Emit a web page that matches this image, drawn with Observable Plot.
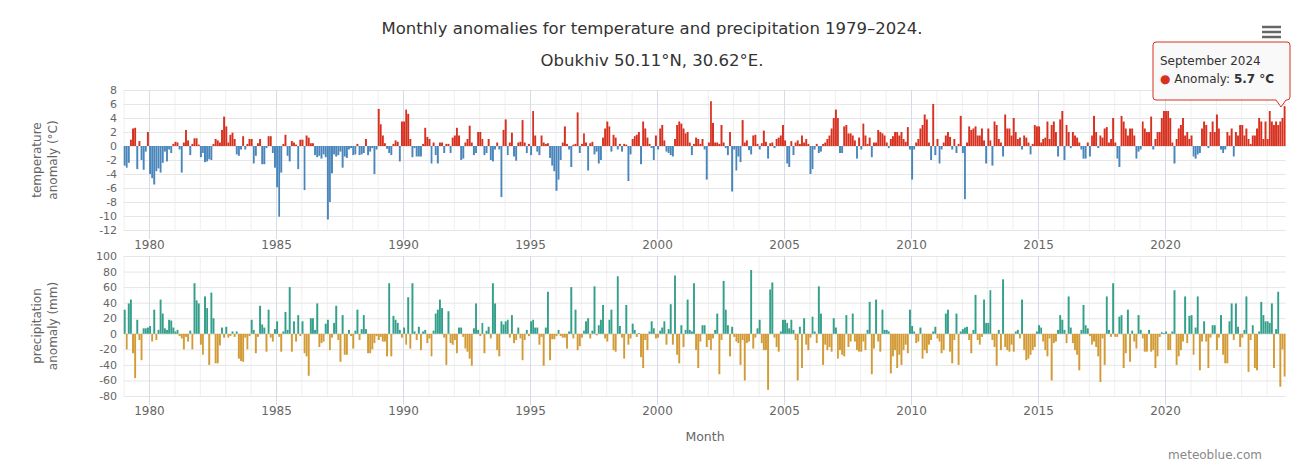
<!DOCTYPE html>
<html><head><meta charset="utf-8">
<script src="https://cdn.jsdelivr.net/npm/d3@7"></script>
<script src="https://cdn.jsdelivr.net/npm/@observablehq/plot@0.6"></script>
<style>
html,body{margin:0;padding:0;background:#fff;}
#chart{position:relative;width:1294px;height:461px;overflow:hidden;font-family:"DejaVu Sans",sans-serif;background:#fff;}
#chart svg{position:absolute;left:0;overflow:visible;}
</style></head><body><div id="chart"></div>
<script>
const startYear = 1979;
const titleText = "Monthly anomalies for temperature and precipitation 1979–2024.";
const subtitleText = "Obukhiv 50.11°N, 30.62°E.";
const yearTicks = [1980, 1985, 1990, 1995, 2000, 2005, 2010, 2015, 2020];
const tempTicks = [8, 6, 4, 2, 0, -2, -4, -6, -8, -10, -12];
const precipTicks = [100, 80, 60, 40, 20, 0, -20, -40, -60, -80];

// Monthly temperature anomaly (°C), one row per year, Jan..Dec
const temperature = [
  [-2.8, -3.1, -2.4, 0.9, 2.5, 2.6, -3.3, 0.7, -2.0, -3.4, -0.8, 2.0], // 1979
  [-4.0, -4.6, -5.5, -3.6, -3.2, -3.8, -2.4, -0.8, -2.2, -0.5, -1.0, 0.3], // 1980
  [0.6, 0.5, -0.5, -3.8, 0.5, 2.3, 0.8, -1.3, 0.3, 1.1, 1.1, 0.2], // 1981
  [-1.6, -1.0, -2.3, -2.2, -1.9, -2.0, 0.3, 1.0, 0.8, 0.5, 2.3, 4.2], // 1982
  [2.8, 0.5, 1.6, 1.9, 1.0, -1.2, -1.4, -0.5, 1.4, -0.5, 0.3, 1.0], // 1983
  [1.0, -2.5, -1.4, 0.4, 1.0, -2.6, -2.6, -0.3, 1.4, 1.4, -1.0, -3.1], // 1984
  [-5.9, -10.1, -3.8, 0.3, 1.6, -1.4, -2.2, 0.7, 0.5, 0.2, -3.3, 0.9], // 1985
  [0.9, -6.3, 1.5, 1.2, 0.4, 0.4, -1.3, -1.6, -1.4, -1.8, -1.2, -1.6], // 1986
  [-10.5, -8.0, -3.9, -1.2, -1.5, -1.3, -0.8, -3.1, -1.5, -1.7, -0.5, -0.3], // 1987
  [-1.3, -1.2, 0.3, -1.3, -1.2, -1.0, 1.0, -1.3, -0.8, -0.3, -4.0, -0.5], // 1988
  [5.3, 3.1, 1.5, 0.4, -0.4, -1.0, -1.3, 0.3, 0.8, 0.6, -2.2, 3.5], // 1989
  [3.5, 5.2, 4.6, 1.0, -1.6, -0.3, -1.5, -1.5, -1.5, 0.3, 2.6, 1.3], // 1990
  [1.0, -2.5, 0.5, -1.3, -2.5, 0.5, 0.5, -1.0, 0.3, 0.3, -1.0, 1.2], // 1991
  [1.5, 2.6, 1.5, -2.0, -1.8, 0.5, 1.0, 2.9, 0.5, -1.3, -1.0, 2.0], // 1992
  [2.0, 1.0, -1.3, -1.0, 1.0, -2.0, -2.2, -0.5, 0.5, -0.5, -7.3, 2.3], // 1993
  [3.8, -1.3, 0.5, 1.9, -1.5, -2.1, 0.5, 0.6, 3.7, 0.5, -1.0, 0.3], // 1994
  [-1.3, 5.0, 1.5, -0.8, -1.3, 1.5, 0.5, 0.3, 0.4, -1.7, -2.8, -3.6], // 1995
  [-6.4, -4.8, -2.0, 0.5, 2.8, 0.3, -0.5, -3.0, 0.2, 0.3, 4.8, -1.0], // 1996
  [0.3, 1.8, 0.5, -3.5, 0.4, 0.6, -1.2, -0.8, -2.5, -2.0, 1.2, 2.5], // 1997
  [3.5, 2.8, -0.8, 1.6, 1.2, -0.5, 0.3, -0.8, 0.3, 0.2, -5.0, -1.2], // 1998
  [1.0, 1.4, 1.6, 2.0, -2.6, 3.5, 2.5, 1.2, 0.3, -0.3, -2.0, 1.5], // 1999
  [-0.5, 2.5, 3.0, 0.8, -0.8, -1.0, -1.3, -1.5, 1.0, 3.0, 3.5, 3.2], // 2000
  [2.5, 1.8, 2.0, 0.5, -1.3, 0.3, 1.2, 1.0, 0.3, 1.0, -0.5, -4.8], // 2001
  [0.5, 6.4, 3.3, 0.5, 0.5, 0.3, 3.0, 0.5, -0.3, -1.3, 2.0, -6.5], // 2002
  [-0.5, -3.5, -1.5, -2.3, 3.7, 0.5, 0.8, -0.6, -1.2, 1.5, 1.6, 0.3], // 2003
  [-0.5, 0.4, 2.2, 0.6, -1.8, 0.4, 0.5, -0.3, 1.0, 1.2, 1.5, 3.0], // 2004
  [0.8, -2.5, -3.0, 0.7, -1.3, 0.5, 0.8, 0.3, 1.5, 0.5, 1.0, 0.3], // 2005
  [-4.0, -3.3, -0.5, 0.3, -1.0, -0.8, 0.3, 0.5, 1.0, 1.5, 2.5, 4.0], // 2006
  [5.2, 4.0, -1.0, -1.0, 2.8, 3.0, 1.8, 1.8, 1.5, 0.8, -1.8, 1.2], // 2007
  [-0.5, 3.2, 1.5, 0.3, 1.2, -1.6, 0.5, 0.5, 2.3, 2.0, 1.8, 1.5], // 2008
  [0.5, -0.3, 1.0, 1.4, 2.0, 2.0, 1.5, 2.0, 1.0, 0.6, 2.7, -0.5], // 2009
  [-4.8, -0.5, 0.5, 1.0, 2.5, 3.0, 4.5, 3.8, 0.5, -2.0, 6.0, -1.3], // 2010
  [1.0, -2.5, -0.5, 0.5, 1.5, 2.0, 1.3, -0.5, 1.0, -1.0, 0.3, 4.3], // 2011
  [-1.0, -7.6, 0.5, 2.8, 2.3, 2.5, 2.8, 1.5, 1.5, 2.5, 0.8, -2.5], // 2012
  [2.5, 0.8, -2.8, 3.5, 3.0, 1.0, 0.5, -1.5, 4.5, 2.5, 2.5, 1.5], // 2013
  [4.0, 2.0, 1.0, 1.2, -0.5, 1.5, 1.2, 0.5, -1.2, 0.3, 3.0, 2.8], // 2014
  [2.8, 0.5, 1.0, 1.2, 3.5, 1.0, 3.0, 3.5, 2.0, -1.5, 3.8, 5.0], // 2015
  [-2.0, 3.0, 2.0, -0.3, 2.0, 1.5, 1.2, 0.5, -0.5, -1.8, -1.8, 0.5], // 2016
  [-1.5, 1.5, 4.3, 2.0, -0.3, 1.5, 1.2, 2.5, 2.7, 0.5, 1.0, 4.0], // 2017
  [0.5, -1.8, -3.0, 4.3, 3.5, 2.5, 1.5, 2.5, 2.5, 1.5, -1.8, -0.8], // 2018
  [-0.5, 3.5, 2.5, 2.0, 2.0, 4.2, -0.5, 1.0, 2.0, 2.0, 4.0, 5.0], // 2019
  [5.0, 5.0, 4.0, 0.5, -2.5, 1.0, 2.5, 3.0, 4.0, 1.5, 2.0, 1.0], // 2020
  [1.5, -1.5, -1.8, -1.2, -1.0, 2.5, 3.5, 3.0, -0.3, 2.0, 3.5, 2.0], // 2021
  [4.5, 2.5, -0.5, -1.0, -0.5, 2.0, 1.5, 2.5, -1.5, 2.0, 1.5, 3.0], // 2022
  [3.0, 1.5, 2.5, 1.0, 0.3, 1.5, 1.5, 2.5, 4.0, 3.5, 1.0, 3.5], // 2023
  [1.0, 5.0, 3.5, 3.0, 3.5, 3.0, 3.5, 4.0, 5.7] // 2024
];

// Monthly precipitation anomaly (mm), one row per year, Jan..Dec
const precipitation = [
  [31, -20, 39, 44, -25, -57, 18, -8, -34, 7, 7, 8], // 1979
  [10, -10, 31, -8, 5, 44, 26, 7, 5, 18, 17, 8], // 1980
  [3, 5, -3, -6, -20, -4, -10, 4, -20, 65, 43, 39], // 1981
  [-14, -27, 48, 33, -40, 53, 20, -38, -38, -15, 8, -5], // 1982
  [9, -5, -3, 3, -4, 3, -32, -35, -36, -5, -20, -3], // 1983
  [18, 5, -25, -4, 36, 12, 8, -23, 31, -5, -10, 6], // 1984
  [16, -4, -23, 3, 28, 5, 60, -23, 16, -10, 24, -3], // 1985
  [16, -25, -29, -54, 20, 20, 5, 39, -17, -12, -10, 13], // 1986
  [18, -21, -5, 14, 36, -8, -36, 24, -27, -27, 5, -3], // 1987
  [-19, 4, 31, -8, 6, 24, 6, -25, -25, -20, -12, -3], // 1988
  [-8, -4, -10, -10, -29, 65, -29, 23, 18, 14, 5, -5], // 1989
  [8, -14, 47, -19, 65, 3, -8, 9, -21, 3, 5, -12], // 1990
  [-6, -29, 4, 26, 31, 44, 33, -5, -40, 29, -12, -14], // 1991
  [-8, -25, 8, 8, -4, -19, -23, -32, -41, 7, 39, 5], // 1992
  [-3, 14, -25, 4, 9, -6, 65, 39, -21, -29, 16, 12], // 1993
  [16, 18, -5, 24, -12, -8, 8, -6, -34, -8, 5, -3], // 1994
  [16, 18, 8, 8, -14, -4, -41, 8, 54, -34, -7, -7], // 1995
  [-3, 5, -3, -5, -5, -19, 3, 60, -6, 31, -21, -16], // 1996
  [-5, 4, 16, 20, -6, 4, 61, -2, 11, 18, 37, -6], // 1997
  [-10, 18, 31, -21, -23, 74, 10, -5, -32, 37, -14, -6], // 1998
  [13, 5, -4, 1, -30, -44, -8, -21, 3, 16, 7, -6], // 1999
  [-5, 4, 8, 16, -14, 6, 38, -14, 75, -27, -38, 11], // 2000
  [-17, 5, 44, 5, 3, 65, -21, -44, -10, 11, 11, -17], // 2001
  [-8, -21, -6, 5, 26, -52, -8, 68, 31, 11, -29, 9], // 2002
  [-4, -10, -12, -40, -8, -60, -12, -10, 82, -19, -5, 7], // 2003
  [18, -12, -21, -21, -72, 57, 66, -5, -17, -23, 3, 18], // 2004
  [18, 14, 7, 18, 5, -8, -60, 9, -44, 20, -14, -21], // 2005
  [-5, 22, 3, -12, 61, 26, -40, -14, -21, -17, -23, 20], // 2006
  [8, -32, -21, -27, -29, 24, -17, -10, 26, -10, -21, -23], // 2007
  [-23, -10, -21, 5, 41, -52, -19, 44, -10, -23, 31, 5], // 2008
  [5, 3, -51, -29, -21, -44, -27, -40, -21, -14, -25, 31], // 2009
  [10, 3, -12, -10, 8, -32, -21, -25, -14, -8, 3, 9], // 2010
  [-6, -10, -25, -21, 26, 31, -23, -38, -8, 26, -40, 3], // 2011
  [6, 8, 9, -8, -25, 5, 50, -8, -14, -4, 44, 14], // 2012
  [14, 56, -8, -17, -41, 5, -21, 70, -17, -21, -23, -14], // 2013
  [-23, 3, 5, -6, 44, -21, -34, -32, -27, -21, -17, 3], // 2014
  [11, 8, -10, -21, -29, -6, -60, -12, -10, 5, 24, 18], // 2015
  [5, -12, 48, 8, -12, -21, -27, -47, 5, 37, 11, 7], // 2016
  [-3, -14, -10, -17, -29, -62, -6, -40, 48, 5, -4, 65], // 2017
  [-4, -4, 22, 24, -44, -25, 31, -36, 4, -10, -19, 24], // 2018
  [5, -6, -23, -23, 5, -23, -21, -44, -29, -4, 2, 1], // 2019
  [3, -21, -21, 3, 56, -40, -29, -21, -10, 48, -12, 23], // 2020
  [24, -27, 8, 48, -47, -10, 16, -10, -44, -5, 11, 11], // 2021
  [-21, -5, 24, -27, -38, -38, 16, 39, -8, 39, 9, -17], // 2022
  [-5, 5, 48, -49, -8, 11, -44, -47, 3, 41, 24, 16], // 2023
  [16, 14, 39, -44, 6, 54, -68, -20, -55] // 2024
];

const colors = {warm: "#d7301f", cold: "#4a86bb", wet: "#34a08b", dry: "#d29b35"};

function toRows(series) {
  const rows = [];
  series.forEach((vals, yi) => vals.forEach((v, mi) => rows.push({
    date: new Date(Date.UTC(startYear + yi, mi, 1)),
    next: new Date(Date.UTC(startYear + yi, mi + 1, 1)),
    value: v
  })));
  return rows;
}
const tempRows = toRows(temperature);
const precRows = toRows(precipitation);
const lastYear = startYear + temperature.length - 1;
const xDomain = [new Date(Date.UTC(startYear, 0, 1)), new Date(Date.UTC(lastYear, temperature[temperature.length - 1].length, 1))];
const minorYears = d3.range(startYear, lastYear + 1).map(y => new Date(Date.UTC(y, 0, 1)));
const majorDates = yearTicks.map(y => new Date(Date.UTC(y, 0, 1)));

function panel(rows, yDomain, yTicks, posColor, negColor) {
  return Plot.plot({
    width: 1294, height: 175,
    marginLeft: 123.6, marginRight: 8.35, marginTop: 10, marginBottom: 25,
    style: {fontFamily: "DejaVu Sans, sans-serif", background: "transparent", overflow: "visible"},
    x: {type: "utc", domain: xDomain, axis: null},
    y: {domain: yDomain, axis: null},
    marks: [
      Plot.ruleX(minorYears, {x: d => d, stroke: "#efefef", strokeWidth: 1}),
      Plot.ruleY(yTicks, {y: d => d, stroke: "#e6e6e6", strokeWidth: 1}),
      Plot.ruleX(majorDates, {x: d => d, stroke: "#d5dbe8", strokeWidth: 1}),
      Plot.rectY(rows.filter(d => d.value >= 0), {x1: "date", x2: "next", y: "value", fill: posColor, insetLeft: 0.1, insetRight: 0.1}),
      Plot.rectY(rows.filter(d => d.value < 0), {x1: "date", x2: "next", y: "value", fill: negColor, insetLeft: 0.1, insetRight: 0.1}),
      Plot.axisY(yTicks, {label: null, tickSize: 0, tickPadding: 7, tickFormat: d => String(d), fontSize: 11, fill: "#666"}),
      Plot.axisX(majorDates, {label: null, tickSize: 9, tickPadding: 1, stroke: "#d5dbe8", tickFormat: d => String(d.getUTCFullYear()), fontSize: 12, fill: "#666"})
    ]
  });
}

const chart = document.getElementById("chart");
const top1 = panel(tempRows, [-12, 8], tempTicks, colors.warm, colors.cold);
top1.style.top = "80px";
chart.appendChild(top1);
const top2 = panel(precRows, [-80, 100], precipTicks, colors.wet, colors.dry);
top2.style.top = "246px";
chart.appendChild(top2);

// overlay for titles, axis titles, tooltip, credits
const ns = "http://www.w3.org/2000/svg";
const ov = document.createElementNS(ns, "svg");
ov.setAttribute("width", 1294); ov.setAttribute("height", 461);
ov.style.top = "0px"; ov.style.pointerEvents = "none";
ov.style.fontFamily = "DejaVu Sans, sans-serif";
chart.appendChild(ov);
function txt(x, y, s, o = {}) {
  const t = document.createElementNS(ns, "text");
  t.setAttribute("x", x); t.setAttribute("y", y);
  t.setAttribute("font-size", o.size || 12);
  t.setAttribute("fill", o.fill || "#666");
  t.setAttribute("text-anchor", o.anchor || "middle");
  if (o.weight) t.setAttribute("font-weight", o.weight);
  if (o.rotate) t.setAttribute("transform", `rotate(-90 ${x} ${y})`);
  t.textContent = s;
  ov.appendChild(t);
  return t;
}
txt(652, 34, titleText, {size: 16.5, fill: "#333"});
txt(652, 66, subtitleText, {size: 16.5, fill: "#333"});
txt(41, 160, "temperature", {rotate: true});
txt(57, 160, "anomaly (°C)", {rotate: true});
txt(41, 326, "precipitation", {rotate: true});
txt(57, 326, "anomaly (mm)", {rotate: true});
txt(705, 441, "Month", {size: 12.5});
txt(1262, 459, "meteoblue.com", {size: 12, fill: "#888", anchor: "end"});

// hamburger menu
[27, 32, 37].forEach(y => {
  const l = document.createElementNS(ns, "line");
  l.setAttribute("x1", 1262); l.setAttribute("x2", 1281);
  l.setAttribute("y1", y); l.setAttribute("y2", y);
  l.setAttribute("stroke", "#666"); l.setAttribute("stroke-width", 2.5);
  ov.appendChild(l);
});

// tooltip callout
const tip = document.createElementNS(ns, "path");
tip.setAttribute("d", "M1156,42 H1287 Q1290,42 1290,45 V97 Q1290,100 1287,100 H1286 L1281,107 L1276,100 H1156 Q1153,100 1153,97 V45 Q1153,42 1156,42 Z");
tip.setAttribute("fill", "rgba(248,248,248,0.92)");
tip.setAttribute("stroke", colors.warm);
tip.setAttribute("stroke-width", 1);
ov.appendChild(tip);
txt(1160, 65, "September 2024", {size: 12, fill: "#333", anchor: "start"});
const l2 = txt(1160, 83, "", {size: 12, fill: "#333", anchor: "start"});
const dot = document.createElementNS(ns, "tspan"); dot.setAttribute("fill", colors.warm); dot.textContent = "● ";
const lab = document.createElementNS(ns, "tspan"); lab.textContent = "Anomaly: ";
const val = document.createElementNS(ns, "tspan"); val.setAttribute("font-weight", "bold"); val.textContent = "5.7 °C";
l2.appendChild(dot); l2.appendChild(lab); l2.appendChild(val);
</script></body></html>
